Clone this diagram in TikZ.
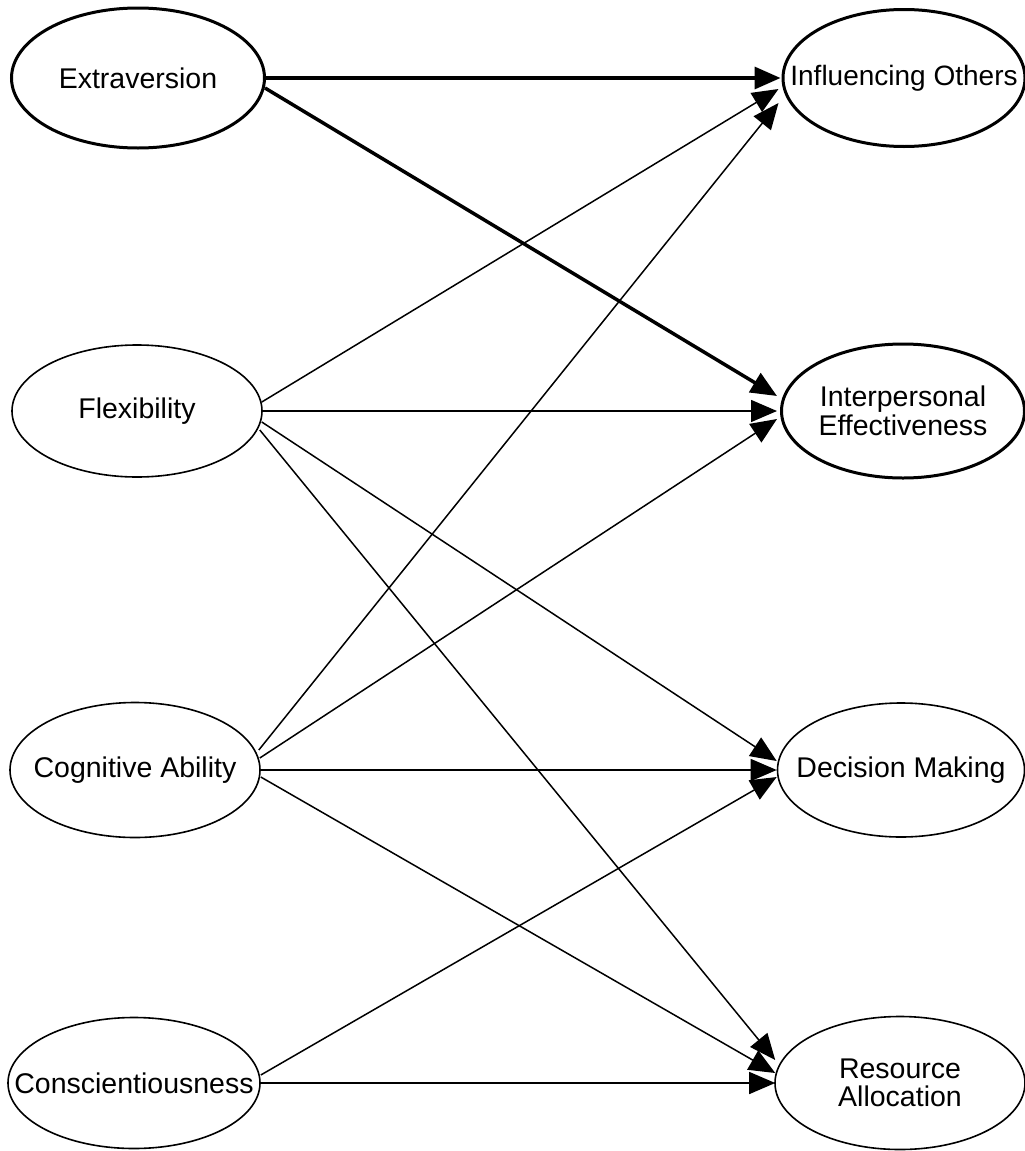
\documentclass[tikz,border=0pt]{standalone}
\usepackage{fontspec}
\setmainfont{Liberation Sans}
\usetikzlibrary{arrows.meta,shapes.geometric,calc}
\begin{document}
\begin{tikzpicture}[x=1pt,y=-1pt,
  construct/.style={draw, ellipse, inner sep=0pt, line width=1.6pt},
  keyconstruct/.style={construct, line width=3pt},
  lbl/.style={font=\fontsize{28.5}{28.5}\selectfont, align=center, inner sep=0pt},
  link/.style={-{Triangle[length=26pt,width=22pt]}, line width=1.5pt},
  strong/.style={link, line width=3.5pt}]
\useasboundingbox (0,0) rectangle (1025,1151);

% predictors (left column)
\node[keyconstruct, minimum width=253pt, minimum height=140pt] (extra) at (138,78) {};
\node[construct, minimum width=250pt, minimum height=132pt] (flex) at (137,411) {};
\node[construct, minimum width=250pt, minimum height=135pt] (cog) at (135,770) {};
\node[construct, minimum width=252pt, minimum height=131pt] (consc) at (134,1083) {};

% criteria (right column)
\node[keyconstruct, minimum width=242pt, minimum height=137pt] (infl) at (904,78) {};
\node[keyconstruct, minimum width=243pt, minimum height=134pt] (inter) at (903,411) {};
\node[construct, minimum width=247pt, minimum height=134pt] (dec) at (901,770) {};
\node[construct, minimum width=250pt, minimum height=133pt] (res) at (900,1083) {};

% labels
\node[lbl] (extra-t) at (extra) {Extraversion};
\node[lbl] (flex-t) at (flex) {Flexibility};
\node[lbl] (cog-t) at (cog) {Cognitive Ability};
\node[lbl] (consc-t) at (consc) {Conscientiousness};
\node[lbl, font=\fontsize{28}{28}\selectfont] (infl-t) at (infl) {Influencing Others};
\node[lbl] (inter-t) at (inter) {Interpersonal\\Effectiveness};
\node[lbl] (dec-t) at (dec) {Decision Making};
\node[lbl] (res-t) at (res) {Resource\\Allocation};

% paths from Extraversion
\draw[strong] (extra.east) -- ($(infl.west)+(-1,0)$);
\draw[strong] ($(extra.east)+(-1,10)$) -- ($(inter.west)+(-3,-15)$);

% paths from Flexibility
\draw[link] ($(flex.east)+(-1,-9)$) -- ($(infl.west)+(-3,11)$);
\draw[link] (flex.east) -- ($(inter.west)+(-3,0)$);
\draw[link] ($(flex.east)+(-1,11)$) -- ($(dec.west)+(0,-9)$);
\draw[link] ($(flex.east)+(-3,19)$) -- ($(res.west)+(1,-23)$);

% paths from Cognitive Ability
\draw[link] ($(cog.east)+(-2,-20)$) -- ($(infl.west)+(-3,25)$);
\draw[link] ($(cog.east)+(-1,-12)$) -- ($(inter.west)+(-3,8)$);
\draw[link] (cog.east) -- (dec.west);
\draw[link] ($(cog.east)+(0,7)$) -- ($(res.west)+(1,-10)$);

% paths from Conscientiousness
\draw[link] ($(consc.east)+(0,-8)$) -- ($(dec.west)+(0,7)$);
\draw[link] (consc.east) -- ($(res.west)+(1,0)$);
\end{tikzpicture}
\end{document}
